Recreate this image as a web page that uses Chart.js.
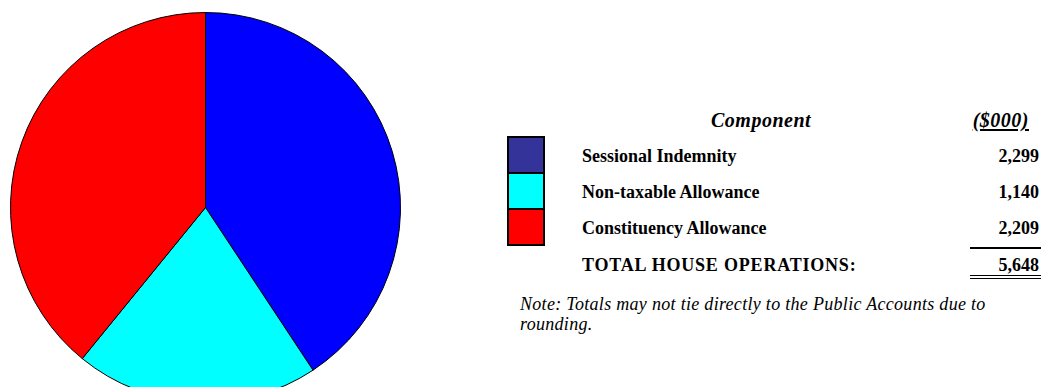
<!DOCTYPE html>
<html>
<head>
<meta charset="utf-8">
<script src="https://cdn.jsdelivr.net/npm/chart.js@4/dist/chart.umd.min.js"></script>
<style>
  html, body { margin: 0; padding: 0; background: #fff; overflow: hidden; }
  #wrap { position: relative; width: 1041px; height: 387px; overflow: hidden; background: #fff;
          font-family: "Liberation Serif", "Times New Roman", serif; color: #000; }
  #pieBox { position: absolute; left: 10px; top: 12px; width: 391px; height: 391px; }
  .t { position: absolute; white-space: nowrap; font-size: 18px; line-height: 20px; font-weight: bold; }
  .num { text-align: right; }
  .key { position: absolute; left: 507px; width: 34px; height: 34px; border: 2px solid #000; }
  .rule { position: absolute; background: #000; }
  .note { position: absolute; left: 520px; font-size: 18px; line-height: 20px; font-style: italic; white-space: nowrap; letter-spacing: 0.3px; }
</style>
</head>
<body>
<div id="wrap">
  <div id="pieBox"><canvas id="pie" width="391" height="391"></canvas></div>
  <div id="table"></div>
</div>
<script>
// ---- data ----
const categories = ["Sessional Indemnity", "Non-taxable Allowance", "Constituency Allowance"];
const values = [2299, 1140, 2209];
const pieColors = ["#0000FF", "#00FFFF", "#FF0000"];
const legendColors = ["#333399", "#00FFFF", "#FF0000"];
const headerLabels = ["Component", "($000)"];
const totalLabel = "TOTAL HOUSE OPERATIONS:";
const totalValue = "5,648";
const noteLines = ["Note: Totals may not tie directly to the Public Accounts due to", "rounding."];

// ---- pie ----
new Chart(document.getElementById("pie"), {
  type: "pie",
  data: {
    labels: categories,
    datasets: [{
      data: values,
      backgroundColor: pieColors,
      borderColor: "#000",
      borderWidth: 1,
      hoverOffset: 0
    }]
  },
  options: {
    responsive: false,
    animation: false,
    rotation: 0,
    layout: { padding: 0 },
    plugins: { legend: { display: false }, tooltip: { enabled: false } },
    events: []
  }
});

// ---- table ----
const tbl = document.getElementById("table");
function add(html) { tbl.insertAdjacentHTML("beforeend", html); }
const fmt = v => v.toLocaleString("en-US");
const rowTops = [146, 182, 218];

add(`<div class="t" style="left:711px;top:110px;font-size:20px;font-style:italic;letter-spacing:0.5px;">${headerLabels[0]}</div>`);
add(`<div class="t num" style="right:12px;top:110px;font-size:20px;font-style:italic;letter-spacing:0.5px;"><span style="text-decoration:underline;text-underline-offset:2px;">${headerLabels[1]}</span></div>`);

categories.forEach((c, i) => {
  add(`<div class="key" style="top:${136 + i * 36}px;background:${legendColors[i]};"></div>`);
  add(`<div class="t" style="left:582px;top:${rowTops[i]}px;">${c}</div>`);
  add(`<div class="t num" style="right:2px;top:${rowTops[i]}px;">${fmt(values[i])}</div>`);
});
add(`<div class="rule" style="left:970px;width:71px;top:247px;height:2px;"></div>`);
add(`<div class="t" style="left:582px;top:255px;letter-spacing:0.8px;">${totalLabel}</div>`);
add(`<div class="t num" style="right:2px;top:255px;">${totalValue}</div>`);
add(`<div class="rule" style="left:970px;width:71px;top:275px;height:1px;"></div>`);
add(`<div class="rule" style="left:970px;width:71px;top:278px;height:1px;"></div>`);
noteLines.forEach((l, i) => {
  add(`<div class="note" style="top:${294 + i * 20}px;">${l}</div>`);
});
</script>
</body>
</html>
